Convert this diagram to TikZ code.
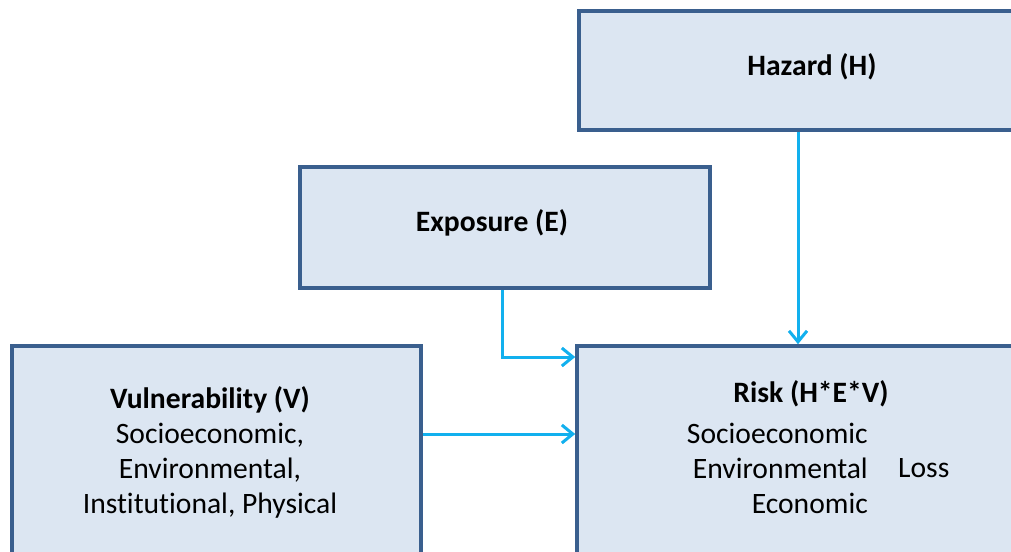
\documentclass[tikz,border=0pt]{standalone}
\usepackage{fontspec}
\setmainfont{Carlito}[RawFeature=-liga]
\usetikzlibrary{arrows.meta}
\definecolor{boxfill}{HTML}{DCE6F2}
\definecolor{boxline}{HTML}{3A5F8E}
\definecolor{arrcol}{HTML}{12B0EE}
\tikzset{
  box/.style={draw=boxline, line width=3.6pt, fill=boxfill, inner sep=0pt},
  lbl/.style={inner sep=0pt, anchor=base, font=\fontsize{29.6}{35}\selectfont},
  lblb/.style={lbl, font=\fontsize{29.6}{35}\selectfont\bfseries},
  arr/.style={draw=arrcol, line width=3pt, -{Straight Barb[length=11pt,width=18pt]}}
}
\begin{document}
\begin{tikzpicture}[x={(1pt,0)}, y={(0,-1pt)}]
\useasboundingbox (0,0) rectangle (1011,551);
\clip (0,0) rectangle (1011,551);
% boxes
\node[box, minimum width=466pt, minimum height=119pt] (H) at (812,70.5) {};
\node[box, minimum width=410pt, minimum height=121pt] (E) at (505,227.5) {};
\node[box, minimum width=409pt, minimum height=254pt] (V) at (216.5,473) {};
\node[box, minimum width=468pt, minimum height=274pt] (R) at (811,483) {};
% texts
\node[lblb] (ht) at (812,75) {Hazard (H)};
\node[lblb] (et) at (492,231) {Exposure (E)};
\node[lblb] (vt) at (210,408) {Vulnerability (V)};
\node[lbl] (v1) at (210,443) {Socioeconomic,};
\node[lbl] (v2) at (210,478) {Environmental,};
\node[lbl] (v3) at (210,513) {Institutional, Physical};
\node[lblb] (rt) at (811,402) {Risk (H*E*V)};
\node[lbl, anchor=base east] (r1) at (868,443) {Socioeconomic};
\node[lbl, anchor=base east] (r2) at (868,478) {Environmental};
\node[lbl, anchor=base east] (r3) at (868,513) {Economic};
\node[lbl, anchor=base west] (loss) at (898,477) {Loss};
% connectors
\coordinate (ha) at (798,130);
\coordinate (ea) at (502,288);
\coordinate (eb) at (502,357);
\coordinate (va) at (421,434);
\draw[arr] (H.south -| ha) -- (R.north -| ha);
\draw[arr] (E.south -| ea) |- (R.west |- eb);
\draw[arr] (V.east |- va) -- (R.west |- va);
\end{tikzpicture}
\end{document}
